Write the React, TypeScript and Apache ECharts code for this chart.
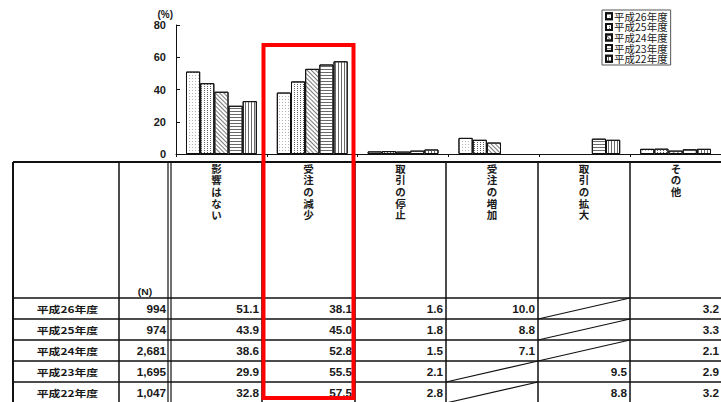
import React, { useEffect, useRef } from 'react';
import * as echarts from 'echarts';

// ---- data ----
const categories = ['影響はない', '受注の減少', '取引の停止', '受注の増加', '取引の拡大', 'その他'];
const years = ['平成26年度', '平成25年度', '平成24年度', '平成23年度', '平成22年度'];
const nCounts = [994, 974, 2681, 1695, 1047];
const h26: (number | null)[] = [51.1, 38.1, 1.6, 10.0, null, 3.2];
const h25: (number | null)[] = [43.9, 45.0, 1.8, 8.8, null, 3.3];
const h24: (number | null)[] = [38.6, 52.8, 1.5, 7.1, null, 2.1];
const h23: (number | null)[] = [29.9, 55.5, 2.1, null, 9.5, 2.9];
const h22: (number | null)[] = [32.8, 57.5, 2.8, null, 8.8, 3.2];
const seriesValues = [h26, h25, h24, h23, h22];
const yMin = 0;
const yMax = 80;
const yInterval = 20;

// ---- styles ----
const FONT = '"Noto Sans CJK JP", "Noto Sans", sans-serif';
const NUMFONT = '"Liberation Sans", Arial, sans-serif';
const TEXT = '#1a1a1a';
const decals: any[] = [
  { symbol: 'rect', symbolSize: 1, color: '#b4b4b4', backgroundColor: '#f7f7f7', dashArrayX: [1, 2], dashArrayY: [1, 2], rotation: 0 },
  { symbol: 'rect', symbolSize: 1, color: '#606060', backgroundColor: '#141414', dashArrayX: [1, 2], dashArrayY: [1, 1], rotation: 0 },
  { symbol: 'rect', symbolSize: 1, color: '#7a7a7a', backgroundColor: '#ffffff', dashArrayX: [1, 0], dashArrayY: [1, 2], rotation: Math.PI / 4 },
  { symbol: 'rect', symbolSize: 1, color: '#6a6a6a', backgroundColor: '#ffffff', dashArrayX: [1, 0], dashArrayY: [1, 2], rotation: 0 },
  { symbol: 'rect', symbolSize: 1, color: '#6a6a6a', backgroundColor: '#ffffff', dashArrayX: [1, 0], dashArrayY: [1, 2], rotation: Math.PI / 2 },
];

// ---- table layout ----
const T_LEFT = 13;
const T_RIGHT = 721;
const T_TOP = 162;
const HEAD_BOTTOM = 298;
const ROW_H = 21;
const COL_N = 119;
const DBL = [168, 171];
const dataCols = [171, 262, 355, 446, 538, 630, 722];
const HEAD_STEP = 11.7;

function buildTable(): any[] {
  const els: any[] = [];
  const bottom = 402;
  const line = (x1: number, y1: number, x2: number, y2: number, w = 1.3) =>
    els.push({ type: 'line', shape: { x1, y1, x2, y2 }, style: { stroke: '#111', lineWidth: w }, silent: true });
  line(T_LEFT, T_TOP, T_RIGHT, T_TOP, 2);
  line(T_LEFT, T_TOP, T_LEFT, bottom, 2);
  line(COL_N, T_TOP, COL_N, bottom, 1.5);
  DBL.forEach((x) => line(x, T_TOP, x, bottom, 1.2));
  dataCols.slice(1, -1).forEach((x) => line(x, T_TOP, x, bottom, 1.5));
  line(T_LEFT, HEAD_BOTTOM, T_RIGHT, HEAD_BOTTOM, 1.6);
  for (let r = 1; r <= years.length; r++) {
    line(T_LEFT, HEAD_BOTTOM + r * ROW_H, T_RIGHT, HEAD_BOTTOM + r * ROW_H, 1.3);
  }
  // vertical header labels: one character per text element
  categories.forEach((c, i) => {
    const cx = (dataCols[i] + dataCols[i + 1]) / 2;
    c.split('').forEach((ch, k) => {
      els.push({
        type: 'text', x: cx, y: 168 + k * HEAD_STEP, silent: true,
        style: { text: ch, fill: TEXT, font: `bold 10.5px ${FONT}`, align: 'center', verticalAlign: 'middle' },
      });
    });
  });
  els.push({
    type: 'text', x: 145, y: 292, silent: true, scaleX: 1.15,
    style: { text: '(N)', fill: TEXT, font: `bold 9px ${NUMFONT}`, align: 'center', verticalAlign: 'middle' },
  });
  years.forEach((yr, r) => {
    const top = HEAD_BOTTOM + r * ROW_H;
    const cy = top + ROW_H / 2 + 0.5;
    els.push({
      type: 'text', x: 67.5, y: cy, silent: true, scaleX: 1.25,
      style: { text: yr, fill: TEXT, font: `bold 9.5px ${FONT}`, align: 'center', verticalAlign: 'middle' },
    });
    els.push({
      type: 'text', x: 166, y: cy, silent: true, scaleX: 1.12,
      style: { text: nCounts[r].toLocaleString('en-US'), fill: TEXT, font: `bold 10.5px ${NUMFONT}`, align: 'right', verticalAlign: 'middle' },
    });
    seriesValues[r].forEach((v, c) => {
      const l = dataCols[c];
      const rr = dataCols[c + 1];
      if (v === null) {
        line(l, top + ROW_H, rr, top, 1.1);
      } else {
        els.push({
          type: 'text', x: rr - 3, y: cy, silent: true, scaleX: 1.12,
          style: { text: v.toFixed(1), fill: TEXT, font: `bold 10.5px ${NUMFONT}`, align: 'right', verticalAlign: 'middle' },
        });
      }
    });
  });
  els.push({
    type: 'rect', silent: true, z: 100,
    shape: { x: 263.5, y: 45, width: 90, height: 353 },
    style: { fill: 'none', stroke: '#ff0000', lineWidth: 4 },
  });
  return els;
}

export default function App() {
  const ref = useRef<HTMLDivElement>(null);
  useEffect(() => {
    const chart = echarts.init(ref.current!, null, { renderer: 'svg' });
    const option: any = {
      animation: false,
      backgroundColor: '#ffffff',
      textStyle: { fontFamily: FONT },
      grid: { left: 176, top: 25, width: 546, height: 129, containLabel: false },
      legend: {
        orient: 'vertical', left: 602, top: 10,
        icon: 'rect', itemWidth: 6, itemHeight: 6, itemGap: 0,
        padding: [1, 3, 1, 3],
        borderColor: '#555', borderWidth: 1,
        textStyle: { fontSize: 10.5, color: TEXT, lineHeight: 10.6, padding: [0, 0, 0, -3] },
        data: years,
      },
      xAxis: {
        type: 'category', data: categories, boundaryGap: true,
        axisLine: { lineStyle: { color: '#111', width: 1 } },
        axisTick: { show: true, length: 3, lineStyle: { color: '#111' } },
        axisLabel: { show: false },
        splitLine: { show: false },
      },
      yAxis: {
        type: 'value', min: yMin, max: yMax, interval: yInterval,
        name: '(%)', nameLocation: 'end', nameGap: 5,
        nameTextStyle: { fontSize: 10, fontWeight: 'bold', fontFamily: NUMFONT, color: TEXT, align: 'right', padding: [0, 3, 0, 0] },
        axisLine: { show: true, lineStyle: { color: '#111', width: 1 } },
        axisTick: { show: true, inside: true, length: 4, lineStyle: { color: '#111' } },
        axisLabel: { fontSize: 11, fontWeight: 'bold', fontFamily: NUMFONT, color: TEXT, margin: 10 },
        splitLine: { show: false },
      },
      series: years.map((y, i) => ({
        name: y, type: 'bar', data: seriesValues[i],
        barGap: '0%', barCategoryGap: '22%',
        itemStyle: { color: '#ffffff', borderColor: '#111', borderWidth: 1, decal: decals[i] },
      })),
      graphic: buildTable(),
    };
    chart.setOption(option);
    return () => chart.dispose();
  }, []);
  return (
    <div
      ref={ref}
      style={{ position: 'fixed', left: 0, top: 0, width: 721, height: 402, background: '#fff' }}
    />
  );
}
